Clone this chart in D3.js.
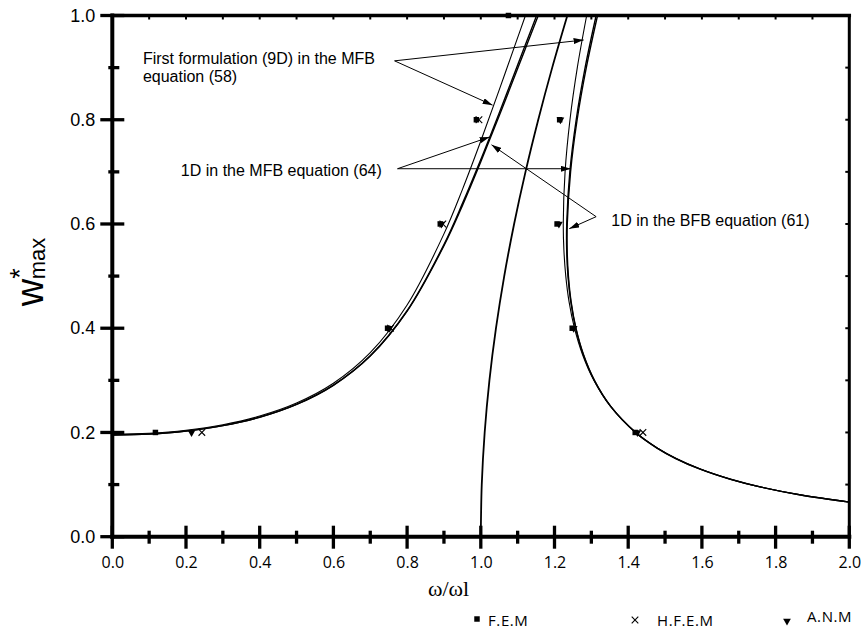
<!DOCTYPE html>
<head>
    <script src="https://d3js.org/d3.v7.min.js"></script>
</head>
<style>
body { margin: 0; background: #fff; }
svg { display: block; }
</style>
<body>
<svg></svg>
<script>
    // axis values
    var xMajor = [0, 0.2, 0.4, 0.6, 0.8, 1.0, 1.2, 1.4, 1.6, 1.8, 2.0];
    var xMinor = [0.1, 0.3, 0.5, 0.7, 0.9, 1.1, 1.3, 1.5, 1.7, 1.9];
    var yMajor = [0, 0.2, 0.4, 0.6, 0.8, 1.0];
    var yMinor = [0.1, 0.3, 0.5, 0.7, 0.9];

    // curves, [omega/omega_l, w*max]
    var mfb9Left = [[0,0.1965],[0.1,0.1984],[0.2,0.2042],[0.3,0.2148],[0.4,0.2314],[0.5,0.2564],[0.6,0.2943],[0.7,0.353],[0.8,0.4445],[0.9,0.581],[0.95,0.666],[1.0,0.7592],[1.05,0.8573],[1.1,0.9576],[1.1212,1.0]];
    var mfb1Left = [[0,0.1951],[0.1,0.197],[0.2,0.2027],[0.3,0.213],[0.4,0.2293],[0.5,0.254],[0.6,0.2908],[0.7,0.347],[0.8,0.4335],[0.9,0.5605],[0.95,0.639],[1.0,0.7236],[1.05,0.813],[1.1,0.905],[1.1244,0.95],[1.1515,1.0]];
    var bfbLeft = [[0,0.195],[0.1,0.1969],[0.2,0.2026],[0.3,0.213],[0.4,0.2292],[0.5,0.2537],[0.6,0.2905],[0.7,0.3466],[0.8,0.4327],[0.9,0.5582],[0.95,0.635],[1.0,0.7192],[1.05,0.8075],[1.1,0.8982],[1.1284,0.95],[1.1559,1.0]];
    var mfb9Right = [[1.2873,1.0],[1.2619,0.9],[1.242,0.8],[1.2287,0.7],[1.2238,0.6],[1.2255,0.55],[1.2306,0.5],[1.2397,0.45],[1.2542,0.4],[1.2757,0.35],[1.3068,0.3],[1.3523,0.25],[1.4207,0.2],[1.4798,0.17],[1.5309,0.15],[1.5957,0.13],[1.6804,0.11],[1.7633,0.095],[1.8716,0.08],[2.0,0.0667]];
    var mfb1Right = [[1.313,1.0],[1.2831,0.9],[1.2589,0.8],[1.2416,0.7],[1.2332,0.6],[1.2331,0.55],[1.2366,0.5],[1.2444,0.45],[1.2576,0.4],[1.2778,0.35],[1.3079,0.3],[1.3523,0.25],[1.4199,0.2],[1.4784,0.17],[1.5292,0.15],[1.5936,0.13],[1.678,0.11],[1.7605,0.095],[1.8684,0.08],[2.0,0.0664]];
    var bfbRight = [[1.3168,1.0],[1.2863,0.9],[1.2614,0.8],[1.2436,0.7],[1.2346,0.6],[1.2343,0.55],[1.2377,0.5],[1.2452,0.45],[1.2582,0.4],[1.2783,0.35],[1.3083,0.3],[1.3526,0.25],[1.42,0.2],[1.4785,0.17],[1.5293,0.15],[1.5937,0.13],[1.678,0.11],[1.7605,0.095],[1.8684,0.08],[2.0,0.0664]];
    var backbone = [[1,0],[1.0026,0.1],[1.0105,0.2],[1.0234,0.3],[1.0412,0.4],[1.0636,0.5],[1.0904,0.6],[1.1213,0.7],[1.1559,0.8],[1.1938,0.9],[1.2349,1.0]];

    // numerical points
    var femPts = [[0.117,0.2],[0.747,0.4],[0.89,0.6],[0.988,0.8],[1.075,1.0],[1.214,0.8],[1.207,0.6],[1.248,0.4],[1.419,0.2]];
    var hfemPts = [[0.243,0.2],[0.755,0.4],[0.897,0.6],[0.995,0.8],[1.44,0.2]];
    var anmPts = [[0.215,0.2],[0.752,0.4],[0.893,0.6],[1.216,0.8],[1.212,0.6],[1.252,0.4],[1.425,0.2]];

    var legendNames = ["F.E.M", "H.F.E.M", "A.N.M"];

    // annotations: label lines, arrow start, arrow tips (data units)
    var notes = [
        {lines: ["First formulation (9D) in the MFB", "equation (58)"], at: [0.083, 0.907], from: [0.766, 0.913], tips: [[1.032, 0.828], [1.279, 0.953]]},
        {lines: ["1D in the MFB equation (64)"], at: [0.186, 0.693], from: [0.774, 0.706], tips: [[1.024, 0.767], [1.244, 0.706]]},
        {lines: ["1D in the BFB equation (61)"], at: [1.354, 0.597], from: [1.313, 0.614], tips: [[1.029, 0.752], [1.240, 0.591]]}
    ];

    var width = 865, height = 631;
    var x = d3.scaleLinear().domain([0, 2]).range([112.3, 849.3]);
    var y = d3.scaleLinear().domain([0, 1]).range([536.7, 15.5]);

    var svg = d3.select('svg').attr('width', width).attr('height', height);

    svg.append('defs').append('marker')
        .attr('id', 'arr').attr('viewBox', '0 0 10 6')
        .attr('refX', 10).attr('refY', 3)
        .attr('markerWidth', 10).attr('markerHeight', 6)
        .attr('markerUnits', 'userSpaceOnUse')
        .attr('orient', 'auto')
        .append('path').attr('d', 'M0,0L10,3L0,6Z').attr('fill', '#000');

    svg.select('defs').append('clipPath').attr('id', 'clip')
        .append('rect').attr('x', x(0)).attr('y', y(1)).attr('width', x(2) - x(0)).attr('height', y(0) - y(1));

    // curves
    var line = d3.line()
        .x(function (d) { return x(d[0]); })
        .y(function (d) { return y(d[1]); })
        .curve(d3.curveCatmullRom.alpha(0.5));

    var curves = svg.append('g').attr('clip-path', 'url(#clip)');
    [mfb9Left, mfb1Left, bfbLeft, mfb9Right, mfb1Right, bfbRight].forEach(function (c, i) {
        curves.append('path').attr('d', line(c))
            .attr('fill', 'none').attr('stroke', '#000')
            .attr('stroke-width', (i % 3 === 0) ? 1.1 : 1.4);
    });
    curves.append('path').attr('d', line(backbone))
        .attr('fill', 'none').attr('stroke', '#000').attr('stroke-width', 1.8);

    // axes
    var yAxis = svg.append('g').attr('transform', 'translate(' + x(0) + ',0)')
        .call(d3.axisLeft(y).tickValues(yMajor).tickFormat(d3.format('.1f')).tickSize(0).tickPadding(17));
    yAxis.select('.domain').remove();
    yAxis.selectAll('text').style('font-family', 'Liberation Sans, Arial, sans-serif').style('font-size', '18px').attr('fill', '#000');

    var xAxis = svg.append('g').attr('transform', 'translate(0,' + y(0) + ')')
        .call(d3.axisBottom(x).tickValues(xMajor).tickFormat(d3.format('.1f')).tickSize(0).tickPadding(20));
    xAxis.select('.domain').remove();
    xAxis.selectAll('text').style('font-family', 'Open Sans, sans-serif').style('font-size', '16px').attr('fill', '#000');

    var ticks = svg.append('g').attr('stroke', '#000');
    ticks.selectAll('.ymaj').data(yMajor).enter().append('line')
        .attr('x1', x(0) - 12).attr('x2', x(0) + 12)
        .attr('y1', function (d) { return y(d); }).attr('y2', function (d) { return y(d); })
        .attr('stroke-width', 3.3);
    ticks.selectAll('.ymin').data(yMinor).enter().append('line')
        .attr('x1', x(0) - 4).attr('x2', x(0) + 7)
        .attr('y1', function (d) { return y(d); }).attr('y2', function (d) { return y(d); })
        .attr('stroke-width', 3.3);
    ticks.selectAll('.xmaj').data(xMajor).enter().append('line')
        .attr('y1', y(0) - 11).attr('y2', y(0) + 12)
        .attr('x1', function (d) { return x(d); }).attr('x2', function (d) { return x(d); })
        .attr('stroke-width', 3.3);
    ticks.selectAll('.xmin').data(xMinor).enter().append('line')
        .attr('y1', y(0) - 6).attr('y2', y(0) + 7)
        .attr('x1', function (d) { return x(d); }).attr('x2', function (d) { return x(d); })
        .attr('stroke-width', 3.3);
    // small inner ticks on top and right frame
    ticks.selectAll('.xtop').data(xMajor.concat(xMinor)).enter().append('line')
        .attr('y1', y(1)).attr('y2', y(1) + 4)
        .attr('x1', function (d) { return x(d); }).attr('x2', function (d) { return x(d); })
        .attr('stroke-width', 2);
    ticks.selectAll('.yright').data(yMajor.concat(yMinor)).enter().append('line')
        .attr('x1', x(2) - 4).attr('x2', x(2))
        .attr('y1', function (d) { return y(d); }).attr('y2', function (d) { return y(d); })
        .attr('stroke-width', 2);

    // frame
    var frame = svg.append('g').attr('stroke', '#000').attr('stroke-linecap', 'square');
    frame.append('line').attr('x1', x(0)).attr('x2', x(0)).attr('y1', y(0)).attr('y2', y(1)).attr('stroke-width', 4);
    frame.append('line').attr('x1', x(0)).attr('x2', x(2)).attr('y1', y(0)).attr('y2', y(0)).attr('stroke-width', 4);
    frame.append('line').attr('x1', x(0)).attr('x2', x(2)).attr('y1', y(1)).attr('y2', y(1)).attr('stroke-width', 3.5);
    frame.append('line').attr('x1', x(2)).attr('x2', x(2)).attr('y1', y(0)).attr('y2', y(1)).attr('stroke-width', 3);

    // points
    var sq = d3.symbol().type(d3.symbolSquare).size(30);
    var cross = d3.symbol().type(d3.symbolX).size(30);
    var tri = d3.symbol().type(d3.symbolTriangle).size(26);
    var pts = svg.append('g');
    pts.selectAll('.fem').data(femPts).enter().append('path')
        .attr('d', sq).attr('fill', '#000')
        .attr('transform', function (d) { return 'translate(' + x(d[0]) + ',' + y(d[1]) + ')'; });
    pts.selectAll('.hfem').data(hfemPts).enter().append('path')
        .attr('d', cross).attr('fill', 'none').attr('stroke', '#000').attr('stroke-width', 1.1)
        .attr('transform', function (d) { return 'translate(' + x(d[0]) + ',' + y(d[1]) + ')'; });
    pts.selectAll('.anm').data(anmPts).enter().append('path')
        .attr('d', tri).attr('fill', '#000')
        .attr('transform', function (d) { return 'translate(' + x(d[0]) + ',' + y(d[1]) + ')rotate(180)'; });

    // annotations
    var ann = svg.append('g');
    notes.forEach(function (n) {
        var t = ann.append('text')
            .attr('x', x(n.at[0])).attr('y', y(n.at[1]))
            .style('font-family', 'Liberation Sans, Arial, sans-serif').style('font-size', '16px');
        n.lines.forEach(function (s, i) {
            t.append('tspan').attr('x', x(n.at[0])).attr('dy', i ? 18 : 0).text(s);
        });
        n.tips.forEach(function (p) {
            ann.append('line')
                .attr('x1', x(n.from[0])).attr('y1', y(n.from[1]))
                .attr('x2', x(p[0])).attr('y2', y(p[1]))
                .attr('stroke', '#000').attr('stroke-width', 1)
                .attr('marker-end', 'url(#arr)');
        });
    });

    // axis titles
    svg.append('text').attr('x', 428).attr('y', 596)
        .style('font-family', 'Liberation Serif, Times New Roman, serif').style('font-size', '22px')
        .text('\u03c9/\u03c9l');

    var yt = svg.append('text')
        .attr('transform', 'translate(43,272)rotate(-90)')
        .attr('text-anchor', 'middle')
        .style('font-family', 'Liberation Sans, Arial, sans-serif');
    yt.append('tspan').style('font-size', '38px').text('w');
    yt.append('tspan').style('font-size', '27px').attr('dy', -14).text('*');
    yt.append('tspan').style('font-size', '22px').attr('dx', -11).attr('dy', 16).text('max');

    // legend
    var legX = [477, 635, 787];
    var leg = svg.append('g');
    leg.append('path').attr('d', sq).attr('fill', '#000').attr('transform', 'translate(' + legX[0] + ',619)');
    leg.append('path').attr('d', cross).attr('fill', 'none').attr('stroke', '#000').attr('stroke-width', 1.1)
        .attr('transform', 'translate(' + legX[1] + ',620)');
    leg.append('path').attr('d', tri).attr('fill', '#000').attr('transform', 'translate(' + legX[2] + ',621)rotate(180)');
    leg.selectAll('text').data(legendNames).enter().append('text')
        .attr('x', function (d, i) { return legX[i] + [11, 22, 20][i]; })
        .attr('y', function (d, i) { return i === 2 ? 622 : 626; })
        .style('font-family', 'Open Sans, sans-serif').style('font-size', '15px').style('letter-spacing', '0.6px')
        .text(function (d) { return d; });
</script>
</body>
